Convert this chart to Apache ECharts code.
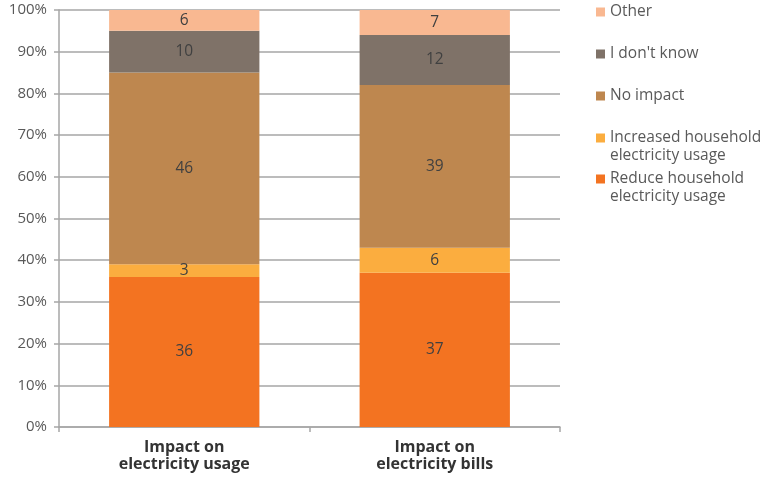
<!DOCTYPE html>
<html>
<head>
<meta charset="utf-8">
<script src="https://cdn.jsdelivr.net/npm/echarts@6/dist/echarts.min.js"></script>
<style>
  html, body { margin: 0; padding: 0; background: #ffffff; }
  #chart { width: 766px; height: 477px; }
</style>
</head>
<body>
<div id="chart"></div>
<script>
// Categories along the x axis
const categories = ['Impact on\nelectricity usage', 'Impact on\nelectricity bills'];

// Response shares (%) per category, stacked bottom to top
const reduceUsage = [36, 37];
const increasedUsage = [3, 6];
const noImpact = [46, 39];
const dontKnow = [10, 12];
const other = [6, 7];

// Series names as shown in the legend
const seriesNames = [
  'Reduce household\nelectricity usage',
  'Increased household\nelectricity usage',
  'No impact',
  "I don't know",
  'Other'
];
const seriesColors = ['#F37321', '#FBAD3F', '#BE874F', '#7F7268', '#F9B891'];
const seriesValues = [reduceUsage, increasedUsage, noImpact, dontKnow, other];

// Y axis ticks
const yMin = 0, yMax = 100, yStep = 10;

const FONT = "'Open Sans', 'Noto Sans', sans-serif";

const chart = echarts.init(document.getElementById('chart'), null, { renderer: 'canvas' });

const series = seriesNames.map((name, i) => ({
  name: name,
  type: 'bar',
  stack: 'total',
  barWidth: '60%',
  data: seriesValues[i],
  itemStyle: { color: seriesColors[i] },
  label: {
    show: true,
    position: 'inside',
    formatter: '{c}',
    color: '#404040',
    fontFamily: FONT,
    fontSize: 15.5
  },
  emphasis: { disabled: true }
}));

// One legend block per series so each entry sits at its own height.
// Two-line names get a leading blank line so the swatch lines up with the first line.
const legendTops = [3, 45, 87, 111, 152];
const legends = [4, 3, 2, 1, 0].map((idx, k) => {
  const twoLine = seriesNames[idx].indexOf('\n') >= 0;
  return {
    data: [seriesNames[idx]],
    left: 596,
    top: legendTops[k],
    padding: 0,
    itemWidth: 9,
    itemHeight: 9,
    itemGap: 0,
    icon: 'rect',
    selectedMode: false,
    formatter: twoLine ? (n) => '\n' + n : (n) => n,
    textStyle: {
      color: '#595959',
      fontFamily: FONT,
      fontSize: 15.5,
      lineHeight: 18
    }
  };
});

chart.setOption({
  animation: false,
  grid: { left: 59, right: 206, top: 10, bottom: 50 },
  legend: legends,
  xAxis: {
    type: 'category',
    data: categories,
    axisLine: { show: true, lineStyle: { color: '#A6A6A6', width: 1.5 } },
    axisTick: { show: true, length: 5, lineStyle: { color: '#A6A6A6', width: 1.5 } },
    axisLabel: {
      color: '#333333',
      fontFamily: FONT,
      fontSize: 16,
      fontWeight: 'bold',
      lineHeight: 17,
      margin: 12
    }
  },
  yAxis: {
    type: 'value',
    min: yMin,
    max: yMax,
    interval: yStep,
    axisLine: { show: true, lineStyle: { color: '#A6A6A6', width: 1.5 } },
    axisTick: { show: true, length: 5, lineStyle: { color: '#A6A6A6', width: 1.5 } },
    splitLine: { show: true, lineStyle: { color: '#A6A6A6', width: 1.5 } },
    axisLabel: {
      formatter: '{value}%',
      color: '#595959',
      fontFamily: FONT,
      fontSize: 15,
      margin: 12
    }
  },
  series: series
});
</script>
</body>
</html>
